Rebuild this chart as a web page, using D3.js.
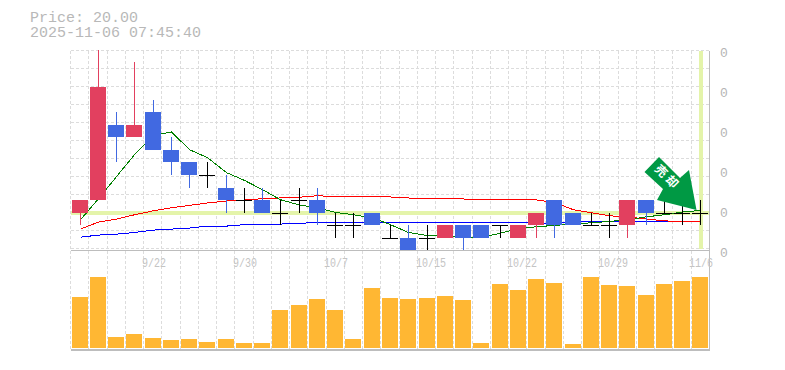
<!DOCTYPE html>
<html><head><meta charset="utf-8">
<script src="https://cdn.jsdelivr.net/npm/d3@7/dist/d3.min.js"></script>
<style>html,body{margin:0;padding:0;background:#fff}svg{display:block}text{font-family:"Liberation Mono",monospace}</style>
</head><body><svg id="c" width="785" height="370"></svg>
<script>
const titleLines = ["Price: 20.00", "2025-11-06 07:45:40"];
const opens  = [20,21,27,26,28,25,24,23,22,21,21,20,21,21,19,19,20,18,18,18,18,19,19,19,18,19,21,20,19,19,19,21,20,20,20];
const highs  = [21,33,28,32,29,26,24,24,23,22,22,21,22,22,20,20,20,19,19,19,19,19,19,19,19,20,21,20,20,20,21,21,21,21,21];
const lows   = [19,21,24,26,25,23,22,22,20,20,20,19,20,19,18,18,19,18,17,17,18,17,18,18,18,18,18,19,19,18,18,19,20,19,19];
const closes = [21,30,26,27,25,24,23,23,21,21,20,20,21,20,19,19,19,18,17,18,19,18,18,19,19,20,19,19,19,19,21,20,20,20,20];
const volumes = [51,71,11,14,10,8,9,6,9,5,5,38,43,49,38,9,60,50,49,50,52,48,5,64,58,69,65,4,71,63,62,53,64,67,71];
const maShort = [19.43,21.11,22.87,24.62,26.14,26.43,25.02,24.38,23.19,22.57,21.83,21.03,20.61,20.39,20.02,19.83,19.59,19.04,18.42,18.18,18.16,18.05,18.02,18.37,18.72,18.88,18.98,19.11,19.19,19.30,19.43,19.67,19.83,20.05,20.18];
const maMid   = [18.69,19.25,19.49,19.83,20.15,20.39,20.58,20.77,20.93,21.01,21.11,21.17,21.23,21.35,21.27,21.27,21.27,21.25,21.17,21.09,21.09,21.09,21.03,21.01,21.01,21.01,20.81,20.23,19.99,19.75,19.65,19.49,19.35,19.27,19.27];
const maLong  = [18.05,18.21,18.29,18.42,18.61,18.69,18.77,18.93,18.93,19.04,19.06,19.09,19.15,19.22,19.22,19.22,19.22,19.22,19.22,19.22,19.22,19.22,19.22,19.22,19.22,19.17,19.17,19.27,19.27,19.27,19.33,19.33,19.33,19.33,19.33];
const xTickIndex = [4,9,14,19,24,29,34];
const xTickLabels = ["9/22","9/30","10/7","10/15","10/22","10/29","11/6"];
const yTickValues = [32.76,29.57,26.38,23.19,20,16.81];
const yTickLabels = ["0","0","0","0","0","0"];
const currentPrice = 20;
const signalLabel = "売却";

const RED="#e2405f", BLUE="#4169e1", GRID="#dcdcdc", AXIS="#bdbdbd", TXT="#c4c4c4", HL="#e4f4aa";
const svg=d3.select("#c");
const L=70.5,R=709.5,T=50.5,PB=250,VB=348,AB=350;
const x=d3.scaleBand().domain(d3.range(opens.length)).range([L,R]).padding(0);
const cx=i=>Math.round(x(i)+x.bandwidth()/2);
const y=d3.scaleLinear().domain([17,33]).range([250.3,49.5]);
const v=d3.scaleLinear().domain([0,d3.max(volumes)]).range([VB,277]);

svg.append("defs").append("clipPath").attr("id","pc").append("rect").attr("x",L).attr("y",T-1).attr("width",R-L).attr("height",PB-T+1);

const gridG=svg.append("g").attr("shape-rendering","crispEdges");
const hh=svg.append("g").attr("shape-rendering","crispEdges");
hh.append("line").attr("x1",L).attr("x2",R).attr("y1",y(currentPrice)).attr("y2",y(currentPrice)).attr("stroke",HL).attr("stroke-width",4);
hh.append("line").attr("x1",cx(34)+1).attr("x2",cx(34)+1).attr("y1",T).attr("y2",PB-1).attr("stroke",HL).attr("stroke-width",4);

d3.range(opens.length).forEach(i=>{
  const gx=Math.floor(x(i))+.5;
  gridG.append("line").attr("x1",gx).attr("x2",gx).attr("y1",T).attr("y2",AB).attr("stroke",GRID).attr("stroke-dasharray","3 2");
});
d3.range(12).forEach(k=>{
  gridG.append("line").attr("x1",L).attr("x2",R).attr("y1",T+18*k).attr("y2",T+18*k).attr("stroke",GRID).attr("stroke-dasharray","3 2");
});

const fr=svg.append("g").attr("stroke",AXIS).attr("shape-rendering","crispEdges");
fr.append("line").attr("x1",L).attr("x2",R).attr("y1",PB+.5).attr("y2",PB+.5);
fr.append("line").attr("x1",L).attr("x2",R+.5).attr("y1",AB-.5).attr("y2",AB-.5).attr("stroke-width",2);
fr.append("line").attr("x1",R).attr("x2",R).attr("y1",T).attr("y2",AB);

svg.append("g").attr("shape-rendering","crispEdges").selectAll("rect").data(volumes).join("rect")
  .attr("x",(d,i)=>cx(i)-8).attr("width",16).attr("y",d=>Math.round(v(d))).attr("height",d=>VB-Math.round(v(d))).attr("fill","#ffb733");

const plot=svg.append("g").attr("clip-path","url(#pc)").attr("shape-rendering","crispEdges");
const ln=d3.line().x((d,i)=>cx(i)+.5).y(d=>y(d));
[[maLong,"#0000ff"],[maMid,"#ff0000"],[maShort,"#008000"]].forEach(([s,c])=>{
  plot.append("path").attr("d",ln(s)).attr("fill","none").attr("stroke",c).attr("stroke-width",1);
});
const colorOf=i=>closes[i]>opens[i]?RED:closes[i]<opens[i]?BLUE:"#000";
const cg=plot.append("g");
d3.range(opens.length).forEach(i=>{
  const c=colorOf(i),xx=cx(i)+.5;
  cg.append("line").attr("x1",xx).attr("x2",xx).attr("y1",Math.round(y(highs[i]))).attr("y2",Math.round(y(lows[i]))).attr("stroke",c);
  if(opens[i]===closes[i]){
    const yy=Math.round(y(opens[i]))+.5;
    cg.append("line").attr("x1",cx(i)-8).attr("x2",cx(i)+8).attr("y1",yy).attr("y2",yy).attr("stroke","#000");
  }else{
    const t=Math.round(y(Math.max(opens[i],closes[i]))),b=Math.round(y(Math.min(opens[i],closes[i])));
    cg.append("rect").attr("x",cx(i)-8).attr("width",16).attr("y",t).attr("height",b-t).attr("fill",c);
  }
});

const ax=cx(34), ay=y(highs[34]);
const arrow=[[-41,-43],[-55.5,-28],[-37,-11],[-43,0],[-3.5,10],[-11,-30],[-20,-22]];
svg.append("path").attr("d",d3.line().curve(d3.curveLinearClosed)(arrow.map(p=>[ax+p[0],ay+p[1]]))).attr("fill","#009944");
svg.append("text").attr("transform",`translate(${ax-33},${ay-22}) rotate(45)`).attr("fill","#fff")
  .attr("text-anchor","middle").attr("dominant-baseline","middle").attr("font-size",12).attr("font-weight","bold").attr("letter-spacing",3)
  .style("font-family",'"Noto Sans CJK JP",sans-serif').text(signalLabel);

const tt=svg.append("text").attr("font-size",15).attr("fill","#b8b8b8");
titleLines.forEach((d,i)=>tt.append("tspan").attr("x",30).attr("y",22+i*15).text(d));
svg.append("g").selectAll("text").data(xTickLabels).join("text")
  .attr("transform",(d,i)=>`translate(${cx(xTickIndex[i])-11},266.5) scale(1,1.2)`).attr("font-size",10).attr("fill",TXT).text(d=>d);
svg.append("g").selectAll("text").data(yTickLabels).join("text")
  .attr("x",720).attr("y",(d,i)=>y(yTickValues[i])+4.5).attr("font-size",13).attr("fill","#b5b5b5").text(d=>d);
</script></body></html>
